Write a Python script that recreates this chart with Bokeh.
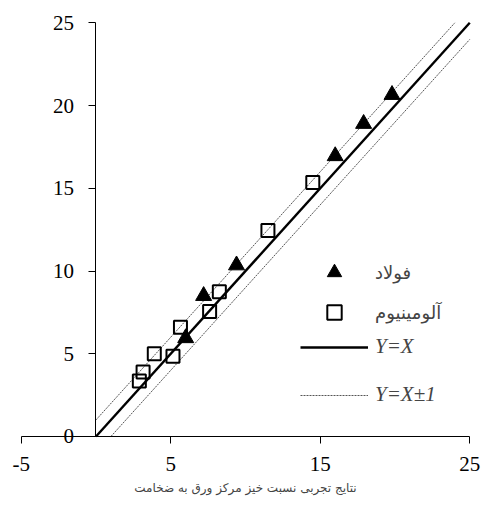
from bokeh.plotting import figure
from bokeh.models import FixedTicker, Legend, LegendItem, Range1d
from bokeh.embed import file_html
from bokeh.resources import INLINE

# --- data ---
steel_x = [6.0, 7.2, 9.4, 16.0, 17.9, 19.8]
steel_y = [5.95, 8.5, 10.35, 16.95, 18.9, 20.65]
alu_x = [2.9, 3.15, 3.9, 5.15, 5.65, 7.6, 8.25, 11.5, 14.5]
alu_y = [3.35, 3.9, 5.0, 4.85, 6.6, 7.55, 8.75, 12.45, 15.35]
yx_x = [0, 25]
yx_y = [0, 25]
upper_x = [0, 24]
upper_y = [1, 25]
lower_x = [1, 25]
lower_y = [0, 24]
x_ticks = [-5, 5, 15, 25]
y_ticks = [0, 5, 10, 15, 20, 25]
x_bounds = (-5, 25)
y_bounds = (0, 25)
x_title = "نتایج تجربی نسبت خیز مرکز ورق به ضخامت"
steel_label = "فولاد"
alu_label = "آلومینیوم"
line_label = "Y=X"
band_label = "Y=X±1"

# frame is a bit larger than the axes so that end tick labels are not clipped
p = figure(width=482, height=509, x_range=Range1d(-5.717, 25.717),
           y_range=Range1d(-3.869, 25.865),
           output_backend="svg", toolbar_location=None,
           min_border_left=10, min_border_right=2, min_border_top=8, min_border_bottom=9)
p.outline_line_color = None
p.grid.visible = False

r_line = p.line(yx_x, yx_y, line_color="black", line_width=2.4)
r_up = p.line(upper_x, upper_y, line_color="#555555", line_width=1, line_dash="2 1")
p.line(lower_x, lower_y, line_color="#555555", line_width=1, line_dash="2 1")
r_alu = p.scatter(alu_x, alu_y, marker="square", size=13, fill_color=None,
                  line_color="black", line_width=2)
r_steel = p.scatter(steel_x, steel_y, marker="triangle", size=16, fill_color="black",
                    line_color="black", line_width=1)

for ax in (p.xaxis, p.yaxis):
    ax.major_label_text_font = "Liberation Serif"
    ax.major_label_text_font_size = "21px"
    ax.major_label_text_color = "black"
    ax.axis_line_color = "black"
    ax.major_tick_line_color = "black"
    ax.major_tick_in = 0
    ax.major_tick_out = 7
    ax.minor_tick_line_color = None
    ax.fixed_location = 0

p.xaxis.bounds = x_bounds
p.xaxis.ticker = FixedTicker(ticks=x_ticks)
p.xaxis.major_label_overrides = {t: str(t) for t in x_ticks}
p.xaxis.major_label_standoff = 14
p.xaxis.axis_label = x_title
p.xaxis.axis_label_text_font = "DejaVu Sans"
p.xaxis.axis_label_text_font_style = "normal"
p.xaxis.axis_label_text_font_size = "12px"
p.xaxis.axis_label_standoff = 6

p.yaxis.bounds = y_bounds
p.yaxis.ticker = FixedTicker(ticks=y_ticks)
p.yaxis.major_label_overrides = {t: str(t) for t in y_ticks}
p.yaxis.major_label_standoff = 15

# legend positions in screen px from the frame's bottom-left corner
leg1 = Legend(items=[LegendItem(label=steel_label, renderers=[r_steel]),
                     LegendItem(label=alu_label, renderers=[r_alu])],
              location=(290, 170), padding=0, margin=0, spacing=4,
              glyph_width=68, glyph_height=36, label_height=20, label_standoff=7,
              border_line_color=None, background_fill_alpha=0,
              label_text_font="DejaVu Sans", label_text_font_size="18px")
leg2 = Legend(items=[LegendItem(label=line_label, renderers=[r_line]),
                     LegendItem(label=band_label, renderers=[r_up])],
              location=(290, 93), padding=0, margin=0, spacing=23,
              glyph_width=68, glyph_height=20, label_height=20, label_standoff=7,
              border_line_color=None, background_fill_alpha=0,
              label_text_font="Liberation Serif", label_text_font_style="italic",
              label_text_font_size="21px")
p.add_layout(leg1)
p.add_layout(leg2)

open("out.html", "w").write(file_html(p, INLINE))
